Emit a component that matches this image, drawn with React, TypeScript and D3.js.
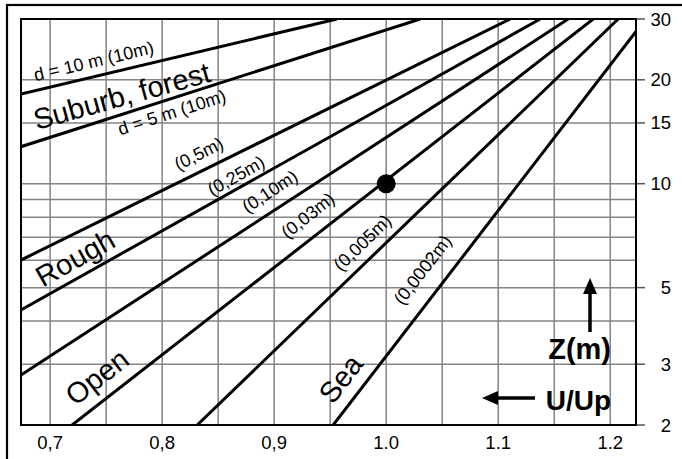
import React, { useEffect, useRef } from "react";
import * as d3 from "d3";

const width = 682;
const height = 459;

// height axis (log, on the right) and wind-speed ratio axis
const zTicks = [2, 3, 5, 10, 15, 20, 30];
const zGrid = [3, 4, 5, 6, 7, 8, 9, 10, 15, 20];
const uGrid = [0.7, 0.75, 0.8, 0.85, 0.9, 0.95, 1.0, 1.05, 1.1, 1.15, 1.2];
const uTicks = [0.7, 0.8, 0.9, 1.0, 1.1, 1.2];
const uTickLabels = ["0,7", "0,8", "0,9", "1.0", "1.1", "1.2"];

// one profile line per roughness length, ends
const roughness = ["d=10m z0=10m", "d=5m z0=10m", "0.5m", "0.25m", "0.10m", "0.03m", "0.005m", "0.0002m"];
const startU = [0.674, 0.674, 0.674, 0.674, 0.674, 0.7196, 0.8313, 0.9527];
const startZ = [18.2, 12.8, 6.01, 4.31, 2.79, 2, 2, 2];
const endU = [0.956, 1.0304, 1.1107, 1.1375, 1.1625, 1.1848, 1.2071, 1.223];
const endZ = [30, 30, 30, 30, 30, 30, 30, 27.6];

// reference point
const refU = 1.0;
const refZ = 10;

// labels along the lines
const labelText = ["d = 10 m (10m)", "Suburb, forest", "d = 5 m (10m)", "(0,5m)", "(0,25m)", "(0,10m)", "(0,03m)", "(0,005m)", "(0,0002m)", "Rough", "Open", "Sea"];
const labelU = [0.687, 0.688, 0.7625, 0.8143, 0.8446, 0.8759, 0.9116, 0.9595, 1.0145, 0.6935, 0.7225, 0.9525];
const labelZ = [19.8, 14.3, 13.8, 10.9, 9.2, 8.2, 6.9, 5.55, 4.42, 5.0, 2.26, 2.28];
const labelLines = [[0], [0, 1], [1], [2], [3], [4], [5], [6], [7], [3], [5], [7]];
const labelKind = ["d", "terrain", "d", "z0", "z0", "z0", "z0", "z0", "z0", "terrain", "terrain", "terrain"];

const font = "'Liberation Sans', Arial, Helvetica, sans-serif";

function WindProfile() {
    const svgRef = useRef<SVGSVGElement>(null);

    useEffect(() => {
        const svg = d3.select(svgRef.current);
        svg.selectAll("*").remove();

        const plot = {left: 21, right: 636, top: 19, bottom: 425};

        const x = d3.scaleLinear().domain([0.674, 1.223]).range([plot.left, plot.right]);
        const y = d3.scaleLog().domain([2, 30]).range([plot.bottom, plot.top]);

        svg.append("rect").attr("width", width).attr("height", height).attr("fill", "#fff");

        // outer frame (cut by the picture edge on right and bottom)
        svg.append("rect")
            .attr("x", 7).attr("y", 5)
            .attr("width", 700).attr("height", 480)
            .attr("fill", "none").attr("stroke", "#000").attr("stroke-width", 2.2);

        svg.append("clipPath").attr("id", "plot-clip")
            .append("rect")
            .attr("x", plot.left).attr("y", plot.top)
            .attr("width", plot.right - plot.left).attr("height", plot.bottom - plot.top);

        // grid
        svg.append("g").selectAll("line").data(uGrid).join("line")
            .attr("x1", d => x(d)).attr("x2", d => x(d))
            .attr("y1", plot.top).attr("y2", plot.bottom)
            .attr("stroke", "#848484").attr("stroke-width", 1.5);

        svg.append("g").selectAll("line").data(zGrid).join("line")
            .attr("x1", plot.left).attr("x2", plot.right)
            .attr("y1", d => y(d)).attr("y2", d => y(d))
            .attr("stroke", "#848484").attr("stroke-width", 1.5);

        // right axis ticks + labels
        svg.append("g").selectAll("line").data(zTicks).join("line")
            .attr("x1", plot.right).attr("x2", plot.right + 9)
            .attr("y1", d => y(d)).attr("y2", d => y(d))
            .attr("stroke", "#555").attr("stroke-width", 1.5);

        svg.append("g").selectAll("text").data(zTicks).join("text")
            .attr("x", 671).attr("y", d => y(d) + 6.5)
            .attr("text-anchor", "end")
            .style("font-family", font).style("font-size", "18.5px")
            .text(d => d);

        // bottom labels
        svg.append("g").selectAll("text").data(uTicks).join("text")
            .attr("x", d => x(d)).attr("y", 449)
            .attr("text-anchor", "middle")
            .style("font-family", font).style("font-size", "18.5px")
            .text((d, i) => uTickLabels[i]);

        // profile lines
        const angle = (i: number) =>
            Math.atan2(y(endZ[i]) - y(startZ[i]), x(endU[i]) - x(startU[i])) * 180 / Math.PI;

        svg.append("g").attr("clip-path", "url(#plot-clip)")
            .selectAll("line").data(roughness).join("line")
            .attr("x1", (d, i) => x(startU[i])).attr("y1", (d, i) => y(startZ[i]))
            .attr("x2", (d, i) => x(endU[i])).attr("y2", (d, i) => y(endZ[i]))
            .attr("stroke", "#000").attr("stroke-width", 3);

        // plot frame
        svg.append("rect")
            .attr("x", plot.left).attr("y", plot.top)
            .attr("width", plot.right - plot.left).attr("height", plot.bottom - plot.top)
            .attr("fill", "none").attr("stroke", "#000").attr("stroke-width", 2);

        // reference point
        svg.append("circle")
            .attr("cx", x(refU)).attr("cy", y(refZ)).attr("r", 9.5)
            .attr("fill", "#000");

        const sizes: Record<string, number> = {d: 18, z0: 18, terrain: 29};

        svg.append("g").selectAll("text").data(labelText).join("text")
            .attr("transform", (d, i) => {
                const a = d3.mean(labelLines[i], angle);
                return `translate(${x(labelU[i])},${y(labelZ[i])}) rotate(${a})`;
            })
            .style("font-family", font)
            .style("font-size", (d, i) => sizes[labelKind[i]] + "px")
            .text(d => d);

        // axis captions with arrows
        svg.append("line")
            .attr("x1", 590).attr("x2", 590).attr("y1", 332).attr("y2", 290)
            .attr("stroke", "#000").attr("stroke-width", 3.5);
        svg.append("path")
            .attr("d", "M590,278 L583,294 L597,294 Z").attr("fill", "#000");

        svg.append("text")
            .attr("x", 611).attr("y", 359).attr("text-anchor", "end")
            .style("font-family", font).style("font-size", "29px").style("font-weight", "bold")
            .text("Z(m)");

        svg.append("line")
            .attr("x1", 535).attr("x2", 494).attr("y1", 398).attr("y2", 398)
            .attr("stroke", "#000").attr("stroke-width", 3.5);
        svg.append("path")
            .attr("d", "M482,398 L498,391 L498,405 Z").attr("fill", "#000");

        svg.append("text")
            .attr("x", 611).attr("y", 410).attr("text-anchor", "end")
            .style("font-family", font).style("font-size", "28px").style("font-weight", "bold")
            .text("U/Up");
    }, []);

    return <svg ref={svgRef} width={width} height={height}
                style={{position: "absolute", left: 0, top: 0, display: "block"}}/>;
}

export default function App() {
    return <WindProfile/>;
}
